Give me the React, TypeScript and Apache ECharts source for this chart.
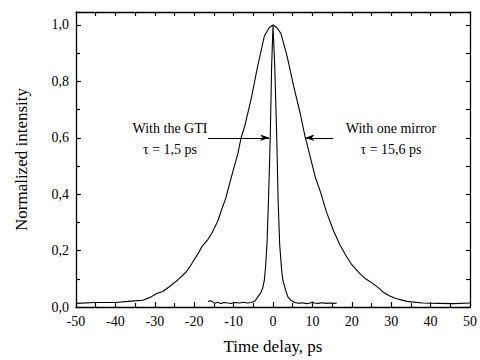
import React, { useEffect, useRef } from "react";
import * as echarts from "echarts";

const broadX = [-50,-45,-40,-36,-33,-31,-29.8,-28,-26.4,-24,-22,-20.6,-19,-18.1,-16.5,-15.6,-14,-13.1,-12,-11,-10,-8.9,-8.1,-7.2,-5.6,-3.9,-2.2,-1,0,1,2,3.6,5.3,6.9,8.2,8.6,10.7,12,13.5,15.3,17,18.7,20,22,23.5,25.4,27,28,29.5,31.2,34,37.9,42,46,50];
const broadY = [0.013,0.016,0.016,0.021,0.024,0.035,0.046,0.055,0.071,0.098,0.125,0.154,0.19,0.213,0.24,0.26,0.305,0.343,0.385,0.438,0.49,0.545,0.6,0.64,0.734,0.853,0.96,0.99,1.0,0.99,0.97,0.888,0.78,0.687,0.6,0.58,0.462,0.41,0.34,0.272,0.22,0.178,0.15,0.119,0.1,0.083,0.065,0.052,0.04,0.03,0.02,0.014,0.013,0.012,0.014];

const narrowX = [-16.5,-16,-15.5,-14.8,-14,-13.3,-12.5,-11.5,-10.5,-9.5,-8.5,-7.5,-6.5,-5.5,-4.5,-3.9,-3.1,-2.6,-2.2,-1.9,-1.5,-1.1,-0.7,-0.35,0,0.45,0.95,1.3,1.7,2.2,2.5,3.2,3.8,4.5,5.5,6.5,7.5,8.5,9.5,10,10.5,11.5,12.5,13.5,14.5,15.5,16.2];
const narrowY = [0.019,0.022,0.02,0.013,0.017,0.012,0.016,0.014,0.013,0.016,0.014,0.017,0.014,0.016,0.022,0.035,0.05,0.068,0.095,0.14,0.23,0.4,0.6,0.85,1.0,0.85,0.6,0.38,0.22,0.13,0.095,0.06,0.035,0.024,0.016,0.013,0.015,0.012,0.014,0.018,0.014,0.013,0.015,0.013,0.014,0.013,0.014];

const xTicks = [-50, 50, 10];
const yTicks = [0, 1.046, 0.2];

const gtiArrow = [[-16.5, 0.6], [-0.95, 0.6]];
const mirrorArrow = [[15.3, 0.6], [8.2, 0.6]];

const FONT = "Liberation Serif";

export default function App() {
  const ref = useRef<HTMLDivElement>(null);
  useEffect(() => {
    if (!ref.current) return;
    const chart = echarts.init(ref.current, undefined, { renderer: "svg" });
    const axisLine = { show: true, onZero: false, lineStyle: { color: "#000", width: 1.3 } };
    const lineSeries = (xs: number[], ys: number[]) => ({
      type: "line",
      data: xs.map((x, i) => [x, ys[i]]),
      showSymbol: false,
      symbol: "none",
      lineStyle: { color: "#000", width: 1.1 },
      silent: true,
    });
    const arrow = (pts: number[][]) => ({
      silent: true,
      symbol: ["none", "arrow"],
      symbolSize: 8,
      label: { show: false },
      lineStyle: { color: "#000", width: 1.1, type: "solid" },
      data: [[
        { coord: pts[0], symbol: "none" },
        { coord: pts[1], symbol: "arrow", symbolSize: [5, 9], itemStyle: { color: "#000" } },
      ]],
    });
    const s1: any = lineSeries(broadX, broadY);
    s1.markLine = arrow(mirrorArrow);
    const s2: any = lineSeries(narrowX, narrowY);
    s2.markLine = arrow(gtiArrow);
    chart.setOption({
      animation: false,
      grid: { left: 76, right: 5, top: 12, bottom: 53 },
      textStyle: { fontFamily: FONT },
      xAxis: [
        {
          type: "value",
          min: xTicks[0],
          max: xTicks[1],
          interval: xTicks[2],
          axisLine,
          axisTick: { inside: true, length: 5, lineStyle: { color: "#000", width: 1.2 } },
          minorTick: { show: true, splitNumber: 2, length: 4, lineStyle: { color: "#000", width: 1.2 } },
          splitLine: { show: false },
          axisLabel: { color: "#000", fontSize: 14, fontFamily: FONT, margin: 7 },
          name: "Time delay, ps",
          nameLocation: "middle",
          nameGap: 31,
          nameTextStyle: { color: "#000", fontSize: 17, fontFamily: FONT },
        },
        {
          type: "value",
          position: "top",
          min: xTicks[0],
          max: xTicks[1],
          interval: 5,
          axisLine,
          axisTick: { inside: true, length: 4, lineStyle: { color: "#000", width: 1.2 } },
          axisLabel: { show: false },
          splitLine: { show: false },
        },
      ],
      yAxis: [
        {
          type: "value",
          min: yTicks[0],
          max: yTicks[1],
          interval: yTicks[2],
          axisLine,
          axisTick: { inside: true, length: 5, lineStyle: { color: "#000", width: 1.2 } },
          minorTick: { show: true, splitNumber: 2, length: 4, lineStyle: { color: "#000", width: 1.2 } },
          splitLine: { show: false },
          axisLabel: {
            color: "#000",
            fontSize: 14,
            fontFamily: FONT,
            margin: 7,
            showMaxLabel: false,
            formatter: (v: number) => v.toFixed(1).replace(".", ","),
          },
          name: "Normalized intensity",
          nameLocation: "middle",
          nameGap: 46,
          nameTextStyle: { color: "#000", fontSize: 17, fontFamily: FONT },
        },
        {
          type: "value",
          position: "right",
          min: yTicks[0],
          max: yTicks[1],
          interval: 0.1,
          axisLine,
          axisTick: { inside: true, length: 4, lineStyle: { color: "#000", width: 1.2 } },
          axisLabel: { show: false },
          splitLine: { show: false },
        },
      ],
      series: [s1, s2],
      graphic: [
        { type: "text", x: 170, y: 128, style: { text: "With the GTI", fontSize: 14, fontFamily: FONT, fill: "#000", textAlign: "center", textVerticalAlign: "middle" } },
        { type: "text", x: 170, y: 149, style: { text: "τ = 1,5 ps", fontSize: 14, fontFamily: FONT, fill: "#000", textAlign: "center", textVerticalAlign: "middle" } },
        { type: "text", x: 391, y: 128, style: { text: "With one mirror", fontSize: 14, fontFamily: FONT, fill: "#000", textAlign: "center", textVerticalAlign: "middle" } },
        { type: "text", x: 391, y: 149, style: { text: "τ = 15,6 ps", fontSize: 14, fontFamily: FONT, fill: "#000", textAlign: "center", textVerticalAlign: "middle" } },
      ],
    });
    return () => chart.dispose();
  }, []);
  return <div ref={ref} style={{ width: 480, height: 360, position: "absolute", left: 0, top: 0 }} />;
}
